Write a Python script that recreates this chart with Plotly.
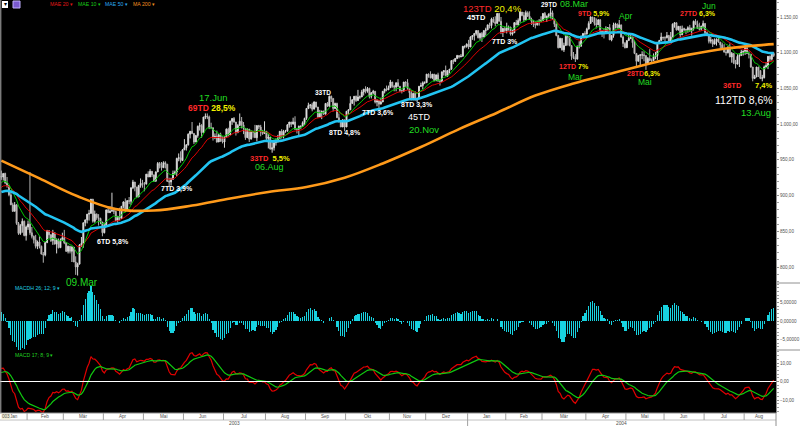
import numpy as np
import pandas as pd
import plotly.graph_objects as go

# ---------------- data: daily bars 13 Jan 2003 - 23 Aug 2004 ----------------
month_labels = ["Jan", "Feb", "Mär", "Apr", "Mai", "Jun", "Jul", "Aug", "Sep", "Okt", "Nov", "Dez",
                "Jan", "Feb", "Mär", "Apr", "Mai", "Jun", "Jul", "Aug"]
month_days = [14, 19, 21, 21, 21, 21, 22, 21, 21, 23, 19, 22, 20, 19, 23, 21, 20, 21, 21, 16]
year_labels = ["2003", "2004"]
year_first_month = [0, 12]

first_open = 927

closes = [
    926, 931, 918, 914, 901, 887, 878, 887, 861, 847, 858, 864, 844, 856,
    860, 848, 843, 838, 829, 835, 829, 818, 817, 834, 851, 845, 837, 848, 832, 838, 827, 837, 841,
    834, 822, 829, 822, 828, 807, 800, 804, 831, 833, 862, 866, 874, 875, 895, 864, 874, 869, 868, 863, 848,
    858, 880, 876, 878, 879, 878, 865, 871, 868, 885, 891, 879, 893, 892, 911, 919, 912, 898, 914, 917, 916,
    916, 930, 926, 934, 929, 920, 933, 945, 942, 939, 946, 944, 920, 919, 923, 931, 933, 952, 953, 949, 964,
    967, 971, 986, 990, 987, 975, 984, 997, 998, 988, 1010, 1011, 1010, 995, 995, 981, 983, 975, 985, 976, 975,
    982, 993, 985, 1004, 1008, 1003, 988, 998, 1004, 999, 994, 981, 993, 979, 990, 989, 981, 998, 996, 989, 987, 990,
    980, 982, 965, 967, 974, 977, 980, 990, 984, 990, 990, 999, 1003, 1000, 1003, 993, 993, 997, 997, 1002, 1008,
    1022, 1026, 1027, 1021, 1031, 1024, 1010, 1016, 1018, 1014, 1029, 1025, 1039, 1036, 1022, 1029, 1009, 1003, 996, 1006, 996,
    1018, 1020, 1029, 1034, 1039, 1033, 1038, 1038, 1045, 1049, 1046, 1050, 1039, 1044, 1046, 1031, 1033, 1028, 1031, 1046, 1049, 1048, 1051,
    1059, 1053, 1052, 1058, 1053, 1047, 1046, 1059, 1058, 1050, 1044, 1034, 1043, 1034, 1036, 1053, 1054, 1058, 1058,
    1070, 1067, 1065, 1070, 1061, 1069, 1061, 1060, 1073, 1075, 1068, 1075, 1077, 1089, 1088, 1092, 1096, 1094, 1095, 1109, 1109, 1112,
    1108, 1122, 1124, 1127, 1131, 1121, 1127, 1122, 1131, 1132, 1139, 1138, 1147, 1143, 1141, 1155, 1144, 1129, 1134, 1131,
    1135, 1136, 1126, 1128, 1142, 1139, 1145, 1157, 1152, 1146, 1156, 1151, 1147, 1144, 1140, 1139, 1143, 1144, 1145,
    1155, 1149, 1151, 1154, 1156, 1147, 1140, 1124, 1107, 1120, 1104, 1110, 1123, 1122, 1110, 1095, 1093, 1091, 1109, 1109, 1123, 1127, 1126,
    1133, 1141, 1150, 1149, 1141, 1139, 1146, 1130, 1129, 1129, 1134, 1135, 1118, 1124, 1139, 1140, 1135, 1139, 1122, 1113, 1107,
    1117, 1120, 1122, 1114, 1099, 1088, 1096, 1097, 1097, 1096, 1084, 1092, 1089, 1089, 1094, 1096, 1114, 1117, 1122, 1121,
    1121, 1124, 1116, 1122, 1140, 1142, 1132, 1137, 1125, 1133, 1133, 1132, 1135, 1131, 1134, 1144, 1140, 1134, 1133, 1137, 1141,
    1128, 1125, 1116, 1118, 1112, 1116, 1119, 1115, 1111, 1106, 1101, 1100, 1108, 1094, 1099, 1086, 1084, 1095, 1096, 1101, 1102,
    1107, 1099, 1098, 1080, 1064, 1066, 1080, 1075, 1064, 1065, 1080, 1082, 1095, 1091, 1099, 1096,
]

highs = [
    935, 931, 932, 926, 914, 906, 890, 891, 888, 863, 860, 868, 865, 858,
    865, 933, 856, 844, 845, 837, 843, 830, 821, 835, 852, 851, 846, 852, 848, 840, 840, 840, 848,
    852, 835, 830, 829, 829, 828, 815, 806, 832, 842, 862, 866, 874, 880, 895, 895, 879, 875, 874, 869, 863,
    862, 880, 885, 885, 904, 883, 879, 871, 883, 885, 892, 896, 893, 898, 911, 922, 919, 911, 915, 924, 922,
    919, 930, 934, 937, 934, 929, 934, 947, 947, 947, 948, 948, 944, 925, 925, 935, 935, 953, 959, 962, 965,
    979, 972, 987, 990, 1003, 987, 985, 998, 1002, 1000, 1010, 1015, 1015, 1012, 1002, 995, 987, 991, 986, 988, 983,
    983, 994, 995, 1005, 1008, 1010, 1003, 1000, 1015, 1010, 1003, 994, 994, 993, 991, 990, 999, 998, 999, 999, 992, 1004,
    990, 986, 982, 975, 975, 980, 985, 990, 993, 992, 992, 1000, 1003, 1003, 1009, 1011, 994, 998, 998, 1004, 1009,
    1022, 1030, 1028, 1030, 1032, 1031, 1024, 1020, 1019, 1019, 1029, 1031, 1040, 1040, 1036, 1030, 1030, 1015, 1004, 1007, 1006,
    1018, 1021, 1039, 1035, 1039, 1040, 1048, 1040, 1048, 1049, 1053, 1052, 1051, 1045, 1048, 1046, 1035, 1033, 1037, 1046, 1050, 1054, 1054,
    1062, 1059, 1055, 1058, 1063, 1053, 1048, 1059, 1060, 1063, 1050, 1048, 1044, 1046, 1037, 1053, 1058, 1060, 1060,
    1070, 1071, 1074, 1070, 1069, 1069, 1072, 1063, 1074, 1075, 1082, 1075, 1077, 1089, 1091, 1092, 1097, 1096, 1098, 1109, 1110, 1113,
    1118, 1123, 1124, 1127, 1131, 1131, 1128, 1129, 1131, 1135, 1139, 1142, 1149, 1150, 1151, 1155, 1155, 1150, 1135, 1136,
    1142, 1138, 1136, 1132, 1143, 1146, 1148, 1158, 1157, 1157, 1159, 1158, 1158, 1149, 1146, 1144, 1145, 1147, 1151,
    1155, 1157, 1152, 1155, 1163, 1159, 1147, 1141, 1125, 1121, 1120, 1114, 1125, 1123, 1123, 1110, 1101, 1098, 1110, 1116, 1124, 1127, 1130,
    1135, 1144, 1151, 1150, 1149, 1148, 1147, 1147, 1132, 1134, 1137, 1136, 1140, 1125, 1142, 1142, 1141, 1146, 1139, 1124, 1115,
    1117, 1127, 1125, 1121, 1117, 1099, 1097, 1098, 1102, 1102, 1096, 1094, 1105, 1092, 1099, 1101, 1114, 1118, 1128, 1122,
    1123, 1129, 1125, 1129, 1141, 1142, 1142, 1137, 1136, 1138, 1135, 1133, 1137, 1139, 1135, 1145, 1147, 1145, 1142, 1138, 1145,
    1141, 1129, 1125, 1122, 1119, 1120, 1120, 1122, 1114, 1114, 1112, 1106, 1109, 1113, 1101, 1099, 1090, 1098, 1099, 1104, 1103,
    1108, 1106, 1102, 1098, 1080, 1069, 1080, 1079, 1075, 1069, 1082, 1087, 1095, 1096, 1100, 1101,
]

lows = [
    922, 921, 916, 911, 899, 887, 877, 878, 859, 845, 845, 848, 843, 837,
    852, 845, 840, 833, 826, 825, 826, 818, 806, 815, 834, 840, 835, 831, 832, 819, 826, 827, 837,
    832, 821, 819, 819, 807, 807, 789, 788, 804, 828, 827, 857, 861, 865, 875, 862, 862, 866, 858, 860, 843,
    847, 858, 876, 876, 879, 874, 864, 862, 865, 868, 882, 877, 879, 888, 887, 909, 906, 897, 898, 911, 911,
    906, 916, 926, 926, 926, 919, 920, 933, 938, 935, 939, 938, 919, 912, 914, 922, 929, 927, 948, 946, 949,
    964, 963, 970, 980, 986, 972, 975, 981, 991, 981, 988, 1007, 1007, 993, 993, 977, 979, 974, 975, 976, 973,
    967, 982, 983, 985, 999, 1002, 984, 988, 998, 994, 986, 978, 981, 975, 979, 981, 981, 976, 993, 983, 985, 987,
    977, 966, 965, 960, 963, 970, 974, 980, 980, 980, 988, 990, 995, 996, 1000, 992, 987, 983, 993, 996, 999,
    1006, 1021, 1022, 1018, 1021, 1023, 1009, 1010, 1007, 1013, 1014, 1024, 1025, 1031, 1018, 1021, 1009, 1003, 996, 996, 990,
    997, 1013, 1020, 1029, 1026, 1031, 1033, 1035, 1038, 1040, 1043, 1044, 1036, 1036, 1042, 1029, 1025, 1018, 1028, 1031, 1043, 1046, 1048,
    1051, 1051, 1046, 1046, 1052, 1045, 1043, 1046, 1052, 1048, 1036, 1034, 1034, 1033, 1031, 1036, 1052, 1049, 1056,
    1058, 1065, 1064, 1063, 1060, 1060, 1059, 1054, 1059, 1068, 1067, 1066, 1071, 1076, 1084, 1087, 1091, 1092, 1094, 1095, 1106, 1107,
    1105, 1108, 1118, 1117, 1124, 1120, 1118, 1115, 1122, 1124, 1132, 1134, 1134, 1142, 1137, 1141, 1144, 1126, 1122, 1128,
    1127, 1131, 1124, 1124, 1128, 1139, 1138, 1142, 1151, 1143, 1146, 1150, 1146, 1139, 1136, 1134, 1138, 1138, 1143,
    1145, 1148, 1143, 1149, 1148, 1146, 1136, 1123, 1106, 1107, 1103, 1101, 1110, 1110, 1109, 1090, 1091, 1087, 1091, 1106, 1109, 1120, 1121,
    1126, 1133, 1141, 1143, 1138, 1134, 1139, 1128, 1122, 1120, 1126, 1129, 1118, 1116, 1121, 1134, 1134, 1135, 1121, 1108, 1106,
    1107, 1117, 1119, 1107, 1098, 1080, 1088, 1080, 1091, 1088, 1076, 1084, 1088, 1085, 1089, 1091, 1090, 1112, 1117, 1118,
    1113, 1120, 1116, 1116, 1122, 1135, 1131, 1131, 1122, 1126, 1130, 1126, 1128, 1129, 1124, 1131, 1139, 1134, 1131, 1131, 1134,
    1123, 1123, 1113, 1113, 1108, 1112, 1110, 1114, 1106, 1104, 1100, 1096, 1099, 1094, 1086, 1084, 1078, 1084, 1080, 1096, 1096,
    1097, 1098, 1092, 1079, 1060, 1063, 1066, 1066, 1063, 1060, 1064, 1079, 1077, 1087, 1089, 1094,
]

# 200-day simple average at every 20th bar
ma200_day = [0, 20, 40, 60, 80, 100, 120, 140, 160, 180, 200, 220, 240, 260, 280, 300, 320, 340, 360, 380, 400, 405]
ma200_val = [949, 924, 899, 881, 879, 886, 896, 905, 912, 925, 945, 968, 993, 1016, 1040, 1057, 1071, 1085, 1097, 1106, 1111, 1112]

# indicator values at the left edge of the chart
seed_ema10, seed_ema20, seed_ema50 = 916, 910, 904
seed_m_fast, seed_m_slow, seed_m_sig = 922, 914.5, 4.3   # MACD 17; 8; 9
seed_h_fast, seed_h_slow, seed_h_sig = 918, 908, 7.0     # MACDH 26; 12; 9

main_ticks = [800, 850, 900, 950, 1000, 1050, 1100, 1150]
macdh_ticks = [-5, 0, 5]
macd_ticks = [-10, 0, 10]

assert len(closes) == sum(month_days) == len(highs) == len(lows)

# ---------------- derived series ----------------
n = len(closes)
idx = np.arange(n)
opens = [first_open] + closes[:-1]
hi = np.maximum.reduce([np.array(highs), np.array(opens), np.array(closes)])
lo = np.minimum.reduce([np.array(lows), np.array(opens), np.array(closes)])


def ema(values, span, seed):
    s = pd.Series([seed] + list(values), dtype=float)
    return s.ewm(span=span, adjust=False).mean().iloc[1:].to_numpy()


ema10 = ema(closes, 10, seed_ema10)
ema20 = ema(closes, 20, seed_ema20)
ema50 = ema(closes, 50, seed_ema50)

macd_line = ema(closes, 8, seed_m_fast) - ema(closes, 17, seed_m_slow)
macd_sig = ema(macd_line, 9, seed_m_sig)

h_line = ema(closes, 12, seed_h_fast) - ema(closes, 26, seed_h_slow)
h_sig = ema(h_line, 9, seed_h_sig)
macdh = h_line - h_sig

# ---------------- layout geometry ----------------
W, H = 800, 426
PR = 776                       # right edge of the black plot (px)
Y_MAIN, Y_H, Y_M = 283, 350, 413
XR = [-0.7, 406.2]
FONT = "Liberation Sans, Arial, sans-serif"
RED, YEL, GRN, WHT = "#ff2a2a", "#f2f200", "#22dd22", "#ffffff"


def py(y):
    return 1 - y / H


fig = go.Figure()
fig.add_trace(go.Candlestick(
    x=idx, open=opens, high=hi, low=lo, close=closes, xaxis="x", yaxis="y",
    increasing=dict(fillcolor="#ffffff", line=dict(color="#d8d8d8", width=1)),
    decreasing=dict(fillcolor="#f4c0c0", line=dict(color="#b4b4b4", width=1)),
    whiskerwidth=0, hoverinfo="skip"))
fig.add_trace(go.Scatter(x=idx, y=ema20, mode="lines", line=dict(color="#e00000", width=1), xaxis="x", yaxis="y"))
fig.add_trace(go.Scatter(x=idx, y=ema10, mode="lines", line=dict(color="#00c800", width=1), xaxis="x", yaxis="y"))
fig.add_trace(go.Scatter(x=idx, y=ema50, mode="lines", line=dict(color="#22c4f2", width=2.6), xaxis="x", yaxis="y"))
fig.add_trace(go.Scatter(x=ma200_day, y=ma200_val, mode="lines", line=dict(color="#ff9a1a", width=2.6, shape="spline"),
                         xaxis="x", yaxis="y"))

fig.add_trace(go.Bar(x=idx, y=macdh, width=0.62, marker=dict(color="#18d2e0", line=dict(width=0)),
                     xaxis="x2", yaxis="y2"))

fig.add_trace(go.Scatter(x=idx, y=macd_line, mode="lines", line=dict(color="#e00000", width=1.2), xaxis="x3", yaxis="y3"))
fig.add_trace(go.Scatter(x=idx, y=macd_sig, mode="lines", line=dict(color="#10c810", width=1.2), xaxis="x3", yaxis="y3"))

xdom = [0, PR / W]
xcommon = dict(domain=xdom, range=XR, visible=False, fixedrange=True, automargin=False)
ycommon = dict(side="right", showgrid=False, zeroline=False, showline=True, linecolor="#909090", linewidth=1,
               ticks="outside", ticklen=2, tickcolor="#909090", automargin=False, fixedrange=True,
               tickfont=dict(size=4.6, color="#505050", family=FONT))

fig.update_layout(
    width=W, height=H, margin=dict(l=0, r=0, t=0, b=0, pad=0, autoexpand=False),
    paper_bgcolor="#ffffff", plot_bgcolor="#000000", showlegend=False,
    separators=",.", bargap=0, hovermode=False,
    xaxis=dict(**xcommon, anchor="y", rangeslider=dict(visible=False)),
    xaxis2=dict(**xcommon, anchor="y2", matches="x"),
    xaxis3=dict(**xcommon, anchor="y3", matches="x"),
    yaxis=dict(**ycommon, domain=[py(Y_MAIN), 1], anchor="x", range=[777.6, 1173.8],
               tickvals=main_ticks, tickformat=",.2f",
               minor=dict(ticks="outside", ticklen=1.5, dtick=10, tickcolor="#a0a0a0")),
    yaxis2=dict(**ycommon, domain=[py(Y_H), py(Y_MAIN)], anchor="x2", range=[-7.84, 10.27],
                tickvals=macdh_ticks, tickformat=".5f",
                minor=dict(ticks="outside", ticklen=1.5, dtick=1, tickcolor="#a0a0a0")),
    yaxis3=dict(**ycommon, domain=[py(Y_M), py(Y_H)], anchor="x3", range=[-17.03, 17.03],
                tickvals=macd_ticks, tickformat=".2f",
                minor=dict(ticks="outside", ticklen=1.5, dtick=2, tickcolor="#a0a0a0")),
)

shapes = []
# MACD zero line
shapes.append(dict(type="line", xref="x3 domain", yref="y3", x0=0, x1=1, y0=0, y1=0,
                   line=dict(color="#ffffff", width=1)))
# panel separators in the axis strip
for yy in (Y_MAIN, Y_H):
    shapes.append(dict(type="line", xref="paper", yref="paper", x0=PR / W, x1=1, y0=py(yy), y1=py(yy),
                       line=dict(color="#909090", width=1)))
# date-axis frame
shapes.append(dict(type="line", xref="paper", yref="paper", x0=0, x1=PR / W, y0=py(Y_M), y1=py(Y_M),
                   line=dict(color="#909090", width=1)))
shapes.append(dict(type="line", xref="paper", yref="paper", x0=0, x1=PR / W, y0=py(420), y1=py(420),
                   line=dict(color="#c0c0c0", width=1)))
shapes.append(dict(type="line", xref="paper", yref="paper", x0=PR / W, x1=PR / W, y0=0, y1=py(Y_M),
                   line=dict(color="#909090", width=1)))
# left border
shapes.append(dict(type="line", xref="paper", yref="paper", x0=0.001, x1=0.001, y0=py(Y_M), y1=1,
                   line=dict(color="#b0b0b0", width=1)))

annotations = []
starts = np.concatenate([[0], np.cumsum(month_days)[:-1]])
for lab, s0, nd in zip(month_labels, starts, month_days):
    if s0 > 0:
        shapes.append(dict(type="line", xref="x3", yref="paper", x0=s0 - 0.5, x1=s0 - 0.5,
                           y0=py(420), y1=py(Y_M), line=dict(color="#a0a0a0", width=1)))
    annotations.append(dict(text=lab, xref="x3", yref="paper", x=s0 + nd / 2 - 0.5, y=py(416.8),
                            showarrow=False, font=dict(size=4.6, color="#505050", family=FONT),
                            xanchor="center", yanchor="middle"))
year_ends = list(starts[year_first_month[1:]]) + [n]
for k, (ylab, m0) in enumerate(zip(year_labels, year_first_month)):
    s0 = starts[m0]
    s1 = year_ends[k]
    if s0 > 0:
        shapes.append(dict(type="line", xref="x3", yref="paper", x0=s0 - 0.5, x1=s0 - 0.5,
                           y0=0, y1=py(420), line=dict(color="#a0a0a0", width=1)))
    annotations.append(dict(text=ylab, xref="x3", yref="paper", x=(s0 + s1) / 2 - 0.5, y=py(423.5),
                            showarrow=False, font=dict(size=4.8, color="#505050", family=FONT),
                            xanchor="center", yanchor="middle"))
annotations.append(dict(text="003", xref="paper", yref="paper", x=0.5 / W, y=py(416.8), showarrow=False,
                        font=dict(size=4.6, color="#505050", family=FONT), bgcolor="#f4f0d8",
                        xanchor="left", yanchor="middle", borderpad=0))

# toolbar icons
shapes.append(dict(type="rect", xref="paper", yref="paper", x0=2 / W, x1=8 / W, y0=py(8), y1=py(1),
                   fillcolor="#ffffff", line=dict(width=0)))
shapes.append(dict(type="rect", xref="paper", yref="paper", x0=13 / W, x1=20 / W, y0=py(8), y1=py(1),
                   fillcolor="#7a5ad0", line=dict(color="#c0b0ff", width=1)))


def span(t, c, bold=True):
    t = f"<b>{t}</b>" if bold else t
    return f"<span style='color:{c}'>{t}</span>"


labels = [
    (span("17.Jun", GRN, False), 213, 97, 9.5),
    (span("69TD", RED) + " " + span("28,5%", YEL), 212, 108, 8.5),
    (span("7TD 3,9%", WHT), 177, 189, 7),
    (span("6TD 5,8%", WHT), 113, 242, 7),
    (span("09.Mar", GRN, False), 82, 282, 10),
    (span("33TD", RED) + "  " + span("5,5%", YEL), 270, 158, 7.5),
    (span("06.Aug", GRN, False), 269, 167, 9),
    (span("33TD", WHT), 323, 92, 6.5),
    (span("8TD 4,8%", WHT), 345, 133, 7),
    (span("7TD 3,6%", WHT), 378, 113, 7),
    (span("8TD 3,3%", WHT), 417, 105, 7),
    (span("45TD", WHT, False), 419, 117, 9),
    (span("20.Nov", GRN, False), 424, 129, 9.5),
    (span("45TD", WHT), 477, 18, 7.5),
    (span("123TD", RED, False) + " " + span("20,4%", YEL, False), 492, 8, 9.5),
    (span("7TD 3%", WHT), 505, 42, 7),
    (span("29TD", WHT), 549, 4, 6.5),
    (span("08.Mar", GRN, False), 574, 4, 9),
    (span("12TD", RED) + " " + span("7%", YEL), 574, 67, 7),
    (span("Mar", GRN, False), 575, 77, 8.5),
    (span("9TD", RED) + " " + span("5,9%", YEL), 594, 14, 7),
    (span("Apr", GRN, False), 625, 16, 8.5),
    (span("28TD", RED) + span("6,3%", YEL), 644, 74, 7),
    (span("Mai", GRN, False), 645, 82, 8.5),
    (span("Jun", GRN, False), 709, 6, 8.5),
    (span("27TD", RED) + " " + span("6,3%", YEL), 698, 14, 7),
    (span("36TD", RED), 732, 85, 7.5),
    (span("7,4%", YEL), 763, 85, 7.5),
    (span("112TD 8,6%", WHT, False), 744, 100, 10.5),
    (span("13.Aug", GRN, False), 756, 112, 9.5),
]
for text, xp, yp, size in labels:
    annotations.append(dict(text=text, xref="paper", yref="paper", x=xp / W, y=py(yp), showarrow=False,
                            font=dict(size=size, family=FONT, color=WHT), xanchor="center", yanchor="middle"))

legend_items = [("MAE 20 ▾", "#e01818", 48), ("MAE 10 ▾", "#18c818", 76),
                ("MAE 50 ▾", "#2aa8f0", 103), ("MA 200 ▾", "#f09020", 131)]
for text, col, xp in legend_items:
    annotations.append(dict(text=text, xref="paper", yref="paper", x=xp / W, y=py(4.5), showarrow=False,
                            font=dict(size=5.2, family=FONT, color=col), xanchor="left", yanchor="middle"))
annotations.append(dict(text="▾", xref="paper", yref="paper", x=5 / W, y=py(4.5), showarrow=False,
                        font=dict(size=6, color="#000000"), xanchor="center", yanchor="middle"))
for text, col, yp in [("MACDH 26; 12; 9 ▾", "#20d0e0", 287.5), ("MACD 17; 8; 9 ▾", "#20d020", 354.5)]:
    annotations.append(dict(text=text, xref="paper", yref="paper", x=13 / W, y=py(yp), showarrow=False,
                            font=dict(size=5.2, family=FONT, color=col), xanchor="left", yanchor="middle"))

fig.update_layout(shapes=shapes, annotations=annotations)
fig.write_html("out.html", config={"displayModeBar": False, "staticPlot": True},
               post_script="document.body.style.margin='0';document.body.style.overflow='hidden';")
